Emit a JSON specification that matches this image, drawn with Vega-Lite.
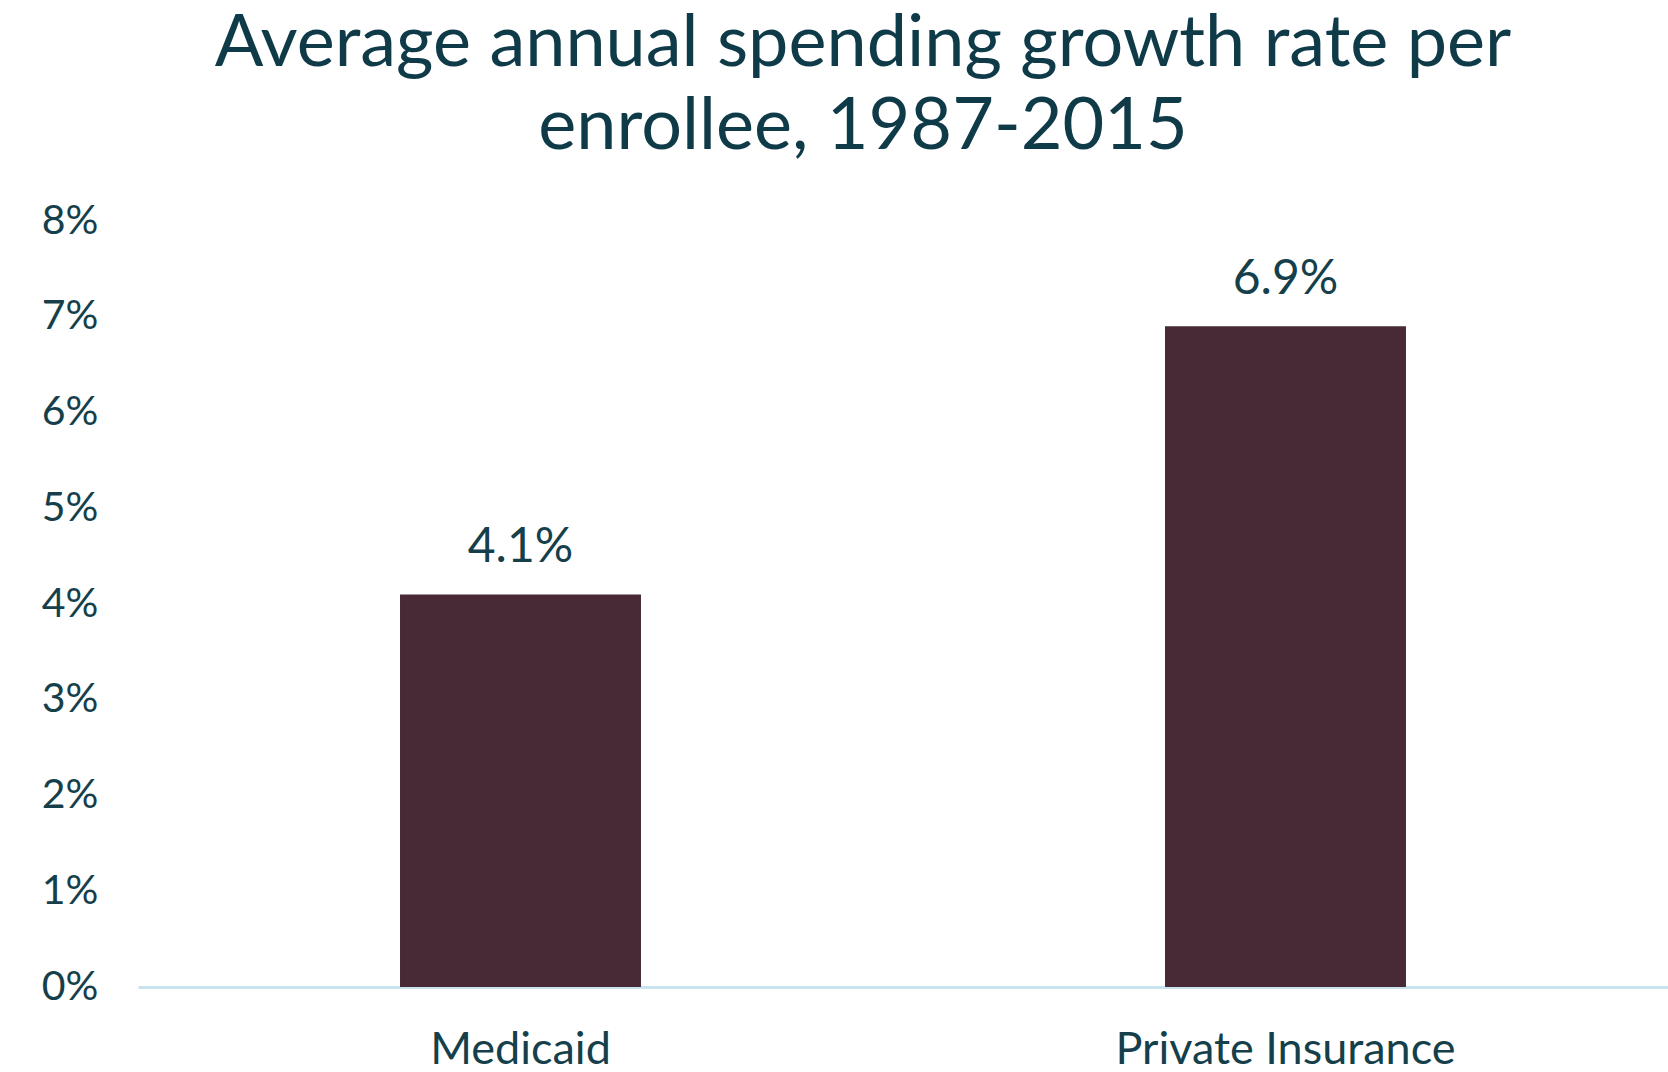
{
  "$schema": "https://vega.github.io/schema/vega-lite/v6.json",
  "autosize": "none",
  "width": 1530,
  "height": 766,
  "padding": {"left": 138, "top": 221, "right": 0, "bottom": 85},
  "background": "white",
  "config": {"view": {"stroke": null}},
  "title": {
    "text": ["Average annual spending growth rate per", "enrollee, 1987-2015"],
    "font": "Lato",
    "fontSize": 72,
    "fontWeight": "normal",
    "lineHeight": 83,
    "color": "#0f3a48",
    "anchor": "middle",
    "dx": -40,
    "offset": 36
  },
  "data": {
    "values": [
      {"payer": "Medicaid", "growth": 0.041},
      {"payer": "Private Insurance", "growth": 0.069}
    ]
  },
  "encoding": {
    "x": {
      "field": "payer",
      "type": "nominal",
      "sort": null,
      "scale": {"paddingInner": 0.685, "paddingOuter": 0.3425},
      "axis": {
        "title": null,
        "labelAngle": 0,
        "ticks": false,
        "labelFont": "Lato",
        "labelFontSize": 45,
        "labelLimit": 0,
        "labelColor": "#163f4c",
        "labelPadding": 40,
        "domainColor": "#c9e4ee",
        "domainWidth": 3
      }
    },
    "y": {
      "field": "growth",
      "type": "quantitative",
      "scale": {"domain": [0, 0.08]},
      "axis": {
        "title": null,
        "format": ".0%",
        "values": [0, 0.01, 0.02, 0.03, 0.04, 0.05, 0.06, 0.07, 0.08],
        "grid": false,
        "ticks": false,
        "domain": false,
        "labelFont": "Lato",
        "labelFontSize": 41,
        "labelColor": "#163f4c",
        "labelPadding": 40
      }
    }
  },
  "layer": [
    {"mark": {"type": "bar", "color": "#472a35"}},
    {
      "mark": {
        "type": "text",
        "font": "Lato",
        "fontSize": 48,
        "color": "#163f4c",
        "baseline": "alphabetic",
        "dy": -32
      },
      "encoding": {
        "text": {"field": "growth", "type": "quantitative", "format": ".1%"}
      }
    }
  ]
}
